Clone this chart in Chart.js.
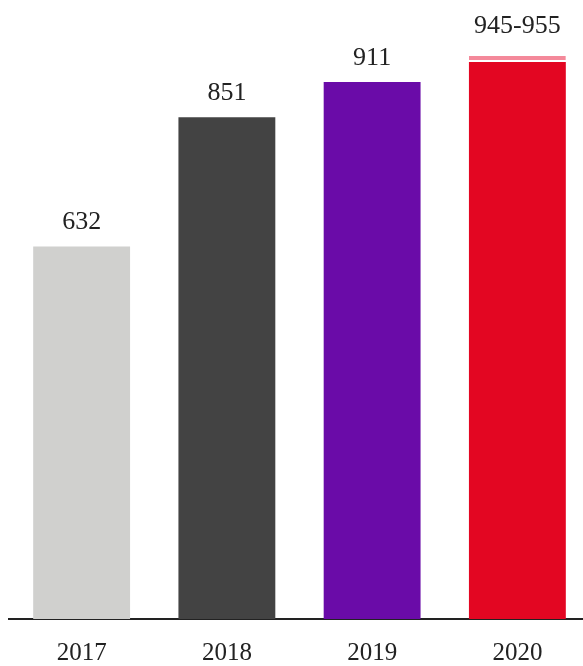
<!DOCTYPE html>
<html>
<head>
<meta charset="utf-8">
<script src="https://cdn.jsdelivr.net/npm/chart.js@4"></script>
<style>
  html, body { margin: 0; padding: 0; background: #fff; overflow: hidden; }
  #wrap { width: 590px; height: 666px; }
</style>
</head>
<body>
<div id="wrap"><canvas id="chart"></canvas></div>
<script>
const years = ['2017', '2018', '2019', '2020'];
const values = [632, 851, 911, 945];
const rangeTop = [null, null, null, 955];
const barColors = ['#d0d0ce', '#434343', '#6a0ba8', '#e30622'];
const rangeColor = '#f4899a';

const rangePart = rangeTop.map((t, i) => t == null ? null : t - values[i]);

// etiquetas encima de cada barra
const topLabels = {
    id: 'topLabels',
    afterDatasetsDraw(chart) {
        const ctx = chart.ctx;
        ctx.save();
        ctx.font = '26px "Liberation Serif", serif';
        ctx.fillStyle = '#222';
        ctx.textAlign = 'center';
        ctx.textBaseline = 'alphabetic';
        years.forEach((y, i) => {
            let el = chart.getDatasetMeta(0).data[i];
            let gap = 17;
            if (rangeTop[i] != null) {
                el = chart.getDatasetMeta(1).data[i];
                gap = 23;
            }
            const txt = rangeTop[i] != null ? values[i] + '-' + rangeTop[i] : String(values[i]);
            ctx.fillText(txt, el.x, el.y - gap);
        });
        ctx.restore();
    }
};

new Chart(document.getElementById('chart'), {
    type: 'bar',
    data: {
        labels: years,
        datasets: [
            {
                data: values,
                backgroundColor: barColors,
                borderWidth: 0,
                categoryPercentage: 1,
                barPercentage: 0.667
            },
            {
                data: rangePart,
                backgroundColor: rangeColor,
                borderColor: '#fff',
                borderWidth: { top: 0, left: 0, right: 0, bottom: 2 },
                borderSkipped: false,
                categoryPercentage: 1,
                barPercentage: 0.667
            }
        ]
    },
    options: {
        responsive: true,
        maintainAspectRatio: false,
        animation: false,
        layout: { padding: { left: 9, right: 0, top: 0, bottom: -22 } },
        plugins: {
            legend: { display: false },
            tooltip: { enabled: false }
        },
        scales: {
            x: {
                stacked: true,
                grid: { display: false, drawTicks: false },
                border: { display: true, color: '#222', width: 2 },
                ticks: {
                    color: '#222',
                    padding: 22,
                    font: { family: '"Liberation Serif", serif', size: 25, lineHeight: 1 }
                }
            },
            y: {
                stacked: true,
                display: false,
                min: 0,
                max: 1050
            }
        }
    },
    plugins: [topLabels]
});
</script>
</body>
</html>
